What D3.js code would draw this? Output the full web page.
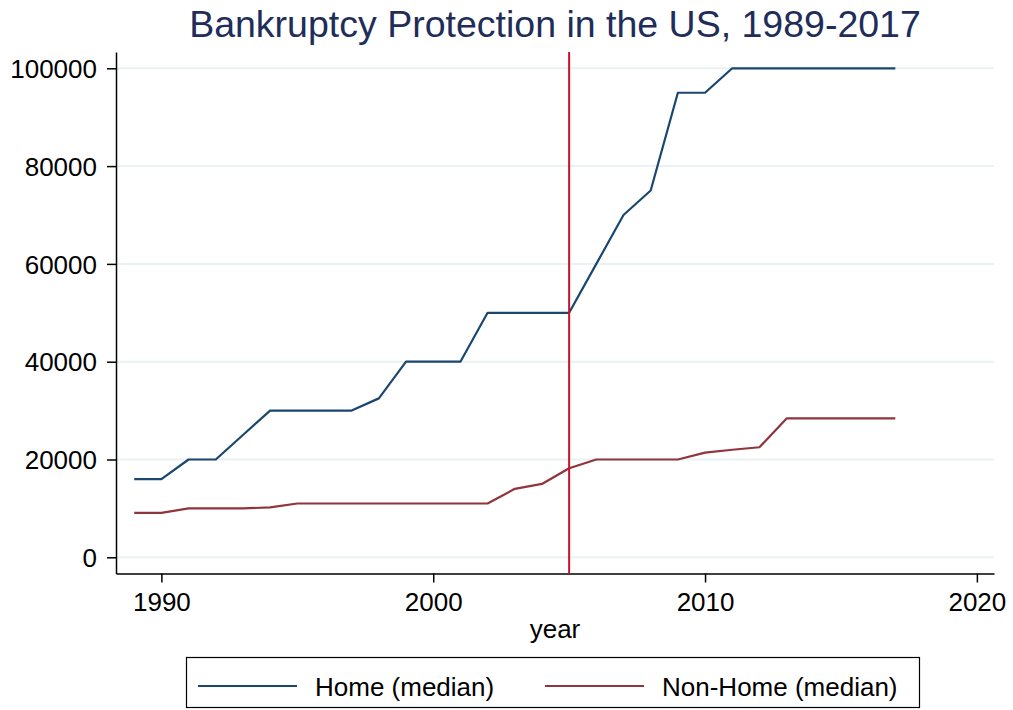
<!DOCTYPE html>
<html>
<head>
<meta charset="utf-8">
<script src="https://cdn.jsdelivr.net/npm/d3@7"></script>
<style>
  html, body { margin: 0; padding: 0; background: #fff; }
  svg { display: block; font-family: "Liberation Sans", Arial, sans-serif; }
</style>
</head>
<body>
<svg id="chart" width="1013" height="710"></svg>
<script>
// Data
const years = [1989, 1990, 1991, 1992, 1993, 1994, 1995, 1996, 1997, 1998, 1999, 2000, 2001,
  2002, 2003, 2004, 2005, 2006, 2007, 2008, 2009, 2010, 2011, 2012, 2013, 2014, 2015, 2016, 2017];
const homeMedian = [16000, 16000, 20000, 20000, 25000, 30000, 30000, 30000, 30000, 32500, 40000, 40000, 40000,
  50000, 50000, 50000, 50000, 60000, 70000, 75000, 95000, 95000, 100000, 100000, 100000, 100000, 100000, 100000, 100000];
const nonHomeMedian = [9100, 9100, 10000, 10000, 10000, 10200, 11000, 11000, 11000, 11000, 11000, 11000, 11000,
  11000, 14000, 15000, 18200, 20000, 20000, 20000, 20000, 21400, 22000, 22500, 28400, 28400, 28400, 28400, 28400];
const xTicks = [1990, 2000, 2010, 2020];
const yTicks = [0, 20000, 40000, 60000, 80000, 100000];
const markerYear = 2005;
const seriesNames = ["Home (median)", "Non-Home (median)"];

const svg = d3.select("#chart");

// Plot region
const plotLeft = 116, plotRight = 994, plotTop = 52, plotBottom = 573.5;

const x = d3.scaleLinear().domain([1988.33, 2020.63]).range([plotLeft, plotRight]);
const y = d3.scaleLinear().domain([-3313, 103333]).range([plotBottom, plotTop]);

const blue = "#1a476f";
const red = "#90353b";

// Title
svg.append("text")
  .attr("x", 555)
  .attr("y", 37)
  .attr("text-anchor", "middle")
  .attr("font-size", 37.5)
  .attr("fill", "#1e2d5a")
  .text("Bankruptcy Protection in the US, 1989-2017");

// Grid lines
svg.append("g")
  .selectAll("line")
  .data(yTicks)
  .join("line")
  .attr("x1", plotLeft)
  .attr("x2", plotRight)
  .attr("y1", d => y(d))
  .attr("y2", d => y(d))
  .attr("stroke", "#eaf2f3")
  .attr("stroke-width", 2);

// Axes
const yAxis = d3.axisLeft(y).tickValues(yTicks).tickFormat(d3.format("d")).tickSize(9).tickSizeOuter(0).tickPadding(10);
const xAxis = d3.axisBottom(x).tickValues(xTicks).tickFormat(d3.format("d")).tickSize(9).tickSizeOuter(0).tickPadding(6);

const gy = svg.append("g").attr("transform", `translate(${plotLeft},0)`).call(yAxis);
const gx = svg.append("g").attr("transform", `translate(0,${plotBottom})`).call(xAxis);

[gx, gy].forEach(g => {
  g.select(".domain").attr("stroke", "#000").attr("stroke-width", 1.5);
  g.selectAll(".tick line").attr("stroke", "#000").attr("stroke-width", 1.5);
  g.selectAll(".tick text").attr("font-size", 26).attr("fill", "#000")
    .attr("font-family", "'Liberation Sans', Arial, sans-serif");
});
gy.selectAll(".tick text").attr("dy", "0.35em");
gx.selectAll(".tick text").attr("dy", "0.85em");

// Axis title
svg.append("text")
  .attr("x", (plotLeft + plotRight) / 2)
  .attr("y", 638)
  .attr("text-anchor", "middle")
  .attr("font-size", 26)
  .attr("fill", "#000")
  .text("year");

// Lines
const line = vals => d3.line()
  .x((d, i) => x(years[i]))
  .y(d => y(d))(vals);

svg.append("path")
  .attr("d", line(homeMedian))
  .attr("fill", "none")
  .attr("stroke", blue)
  .attr("stroke-width", 2.2)
  .attr("stroke-linejoin", "round");

svg.append("path")
  .attr("d", line(nonHomeMedian))
  .attr("fill", "none")
  .attr("stroke", red)
  .attr("stroke-width", 2.2)
  .attr("stroke-linejoin", "round");

// Vertical marker line
svg.append("line")
  .attr("x1", x(markerYear))
  .attr("x2", x(markerYear))
  .attr("y1", plotTop)
  .attr("y2", plotBottom)
  .attr("stroke", "#c8102e")
  .attr("stroke-width", 2);

// Legend
const legend = svg.append("g");
legend.append("rect")
  .attr("x", 186.5)
  .attr("y", 657.5)
  .attr("width", 733)
  .attr("height", 50)
  .attr("fill", "#fff")
  .attr("stroke", "#000")
  .attr("stroke-width", 1.2);

const legendItems = [
  { name: seriesNames[0], color: blue, x0: 198 },
  { name: seriesNames[1], color: red, x0: 545 }
];
legendItems.forEach(it => {
  legend.append("line")
    .attr("x1", it.x0).attr("x2", it.x0 + 99)
    .attr("y1", 686).attr("y2", 686)
    .attr("stroke", it.color)
    .attr("stroke-width", 2.2);
  legend.append("text")
    .attr("x", it.x0 + 117)
    .attr("y", 696)
    .attr("font-size", 26)
    .attr("fill", "#000")
    .text(it.name);
});
</script>
</body>
</html>
